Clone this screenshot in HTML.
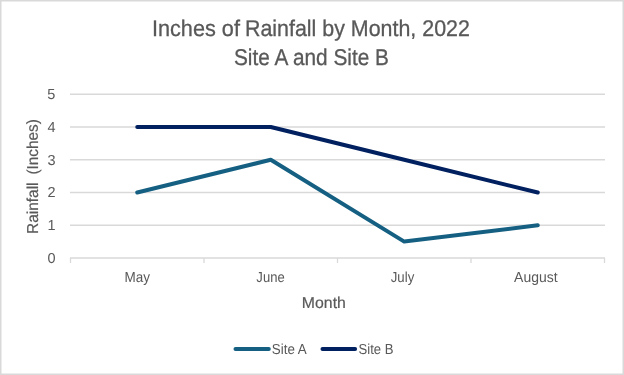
<!DOCTYPE html>
<html><head><meta charset="utf-8">
<style>
html,body{margin:0;padding:0;background:#fff;}
body{width:624px;height:375px;overflow:hidden;}
svg{display:block;filter:blur(0);}
text{font-family:"Liberation Sans",sans-serif;fill:#595959;}
.tt{stroke:#595959;stroke-width:0.3px;}
.at{stroke:#595959;stroke-width:0.2px;}
</style></head>
<body>
<svg width="624" height="375" viewBox="0 0 624 375">
<rect x="0" y="0" width="624" height="375" fill="#ffffff"/>
<rect x="0.75" y="0.75" width="622.5" height="373.5" fill="none" stroke="#d9d9d9" stroke-width="1.5"/>
<g stroke="#d9d9d9" stroke-width="1.3" fill="none">
<line x1="70" y1="94.25" x2="605" y2="94.25"/>
<line x1="70" y1="127" x2="605" y2="127"/>
<line x1="70" y1="159.75" x2="605" y2="159.75"/>
<line x1="70" y1="192.5" x2="605" y2="192.5"/>
<line x1="70" y1="225.25" x2="605" y2="225.25"/>
<line x1="70" y1="258" x2="605" y2="258"/>
<line x1="70.5" y1="258" x2="70.5" y2="263"/>
<line x1="204" y1="258" x2="204" y2="263"/>
<line x1="337.5" y1="258" x2="337.5" y2="263"/>
<line x1="471" y1="258" x2="471" y2="263"/>
<line x1="604.5" y1="258" x2="604.5" y2="263"/>
</g>
<g transform="matrix(1,0,0.0006,1,-0.11,0)">
<text class="tt" x="152" y="36" font-size="22.7" textLength="88" lengthAdjust="spacingAndGlyphs">Inches of</text>
<text class="tt" x="245" y="36" font-size="22.7" textLength="225" lengthAdjust="spacingAndGlyphs">Rainfall by Month, 2022</text>
<text class="tt" x="234" y="65.5" font-size="22.8" textLength="155" lengthAdjust="spacingAndGlyphs">Site A and Site B</text>
<g font-size="14.5" text-anchor="end">
<text x="55.5" y="99">5</text>
<text x="55.5" y="132">4</text>
<text x="55.5" y="165">3</text>
<text x="55.5" y="197.5">2</text>
<text x="55.5" y="230.25">1</text>
<text x="55.5" y="263">0</text>
</g>
<g font-size="14.5">
<text x="124.5" y="282" textLength="25.5" lengthAdjust="spacingAndGlyphs">May</text>
<text x="256.3" y="282" textLength="28.3" lengthAdjust="spacingAndGlyphs">June</text>
<text x="390.7" y="282" textLength="23.5" lengthAdjust="spacingAndGlyphs">July</text>
<text x="514" y="282" textLength="43.5" lengthAdjust="spacingAndGlyphs">August</text>
</g>
<text class="at" x="301.8" y="308" font-size="15.8" textLength="44" lengthAdjust="spacingAndGlyphs">Month</text>
<text class="at" transform="translate(37.9,234) rotate(-90)" x="0" y="0" font-size="15.8" textLength="51.5" lengthAdjust="spacingAndGlyphs">Rainfall</text>
<text class="at" transform="translate(37.9,174.6) rotate(-90)" x="0" y="0" font-size="15.8" textLength="55.5" lengthAdjust="spacingAndGlyphs">(Inches)</text>
<text x="271.7" y="354" font-size="14.5" textLength="35" lengthAdjust="spacingAndGlyphs">Site A</text>
<text x="358.4" y="354" font-size="14.5" textLength="35" lengthAdjust="spacingAndGlyphs">Site B</text>
</g>
<polyline points="137.25,192.5 270.75,159.75 404.25,241.6 537.75,225.25" fill="none" stroke="#156082" stroke-width="4" stroke-linejoin="round" stroke-linecap="round"/>
<polyline points="137.25,127 270.75,127 404.25,159.75 537.75,192.5" fill="none" stroke="#002060" stroke-width="4" stroke-linejoin="round" stroke-linecap="round"/>
<line x1="235.5" y1="349.05" x2="268.8" y2="349.05" stroke="#156082" stroke-width="4" stroke-linecap="round"/>
<line x1="322.5" y1="349.05" x2="355.1" y2="349.05" stroke="#002060" stroke-width="4" stroke-linecap="round"/>
</svg>
</body></html>
